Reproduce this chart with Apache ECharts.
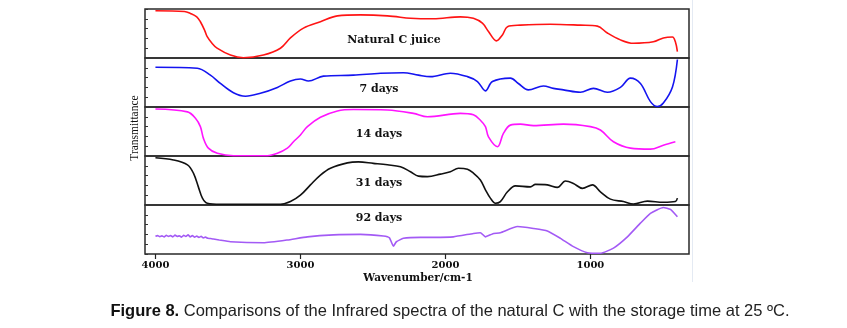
<!DOCTYPE html>
<html>
<head>
<meta charset="utf-8">
<script src="https://cdn.jsdelivr.net/npm/echarts@6/dist/echarts.min.js"></script>
<style>
  html, body { margin: 0; padding: 0; background: #fff; }
  #chart { width: 847px; height: 328px; }
</style>
</head>
<body>
<div id="chart"></div>
<script>
// Wavenumber (cm-1) and relative transmittance (0 = panel floor, 100 = panel top)
const juiceWn = [4000, 3800, 3759, 3715, 3690, 3660, 3644, 3610, 3575, 3483, 3393, 3255, 3138, 3069, 2979, 2862, 2745, 2586, 2400, 2241, 2172, 2083, 1897, 1807, 1745, 1703, 1648, 1607, 1572, 1483, 1276, 1069, 952, 883, 793, 703, 566, 497, 434, 414, 400];
const juiceT  = [96.5, 95, 91, 84, 74, 56, 44, 30, 20, 6, 0.6, 6, 20, 41, 61, 74, 86, 88, 86, 81, 80, 80, 84, 81, 71, 54, 35, 47, 64, 67, 69, 67, 65, 51, 37, 30, 33, 41, 43, 33, 13];

const day7Wn = [4000, 3711, 3621, 3552, 3462, 3379, 3276, 3159, 3069, 3000, 2945, 2841, 2635, 2448, 2290, 2186, 2103, 1966, 1848, 1779, 1724, 1676, 1552, 1497, 1428, 1324, 1255, 1186, 1069, 979, 883, 793, 724, 655, 586, 538, 497, 434, 400];
const day7T  = [81, 79, 65, 48, 29, 22, 28, 40, 53, 57, 53, 63, 65, 69, 70, 65, 62, 69, 62, 52, 33, 52, 59, 48, 35, 43, 38, 35, 30, 38, 30, 40, 59, 48, 11, 1, 8, 41, 97];

const day14Wn = [4000, 3779, 3724, 3690, 3669, 3635, 3573, 3462, 3228, 3159, 3090, 3048, 3000, 2952, 2862, 2745, 2635, 2400, 2221, 2124, 1897, 1807, 1759, 1724, 1703, 1641, 1600, 1552, 1483, 1393, 1186, 1000, 931, 841, 724, 586, 497, 414];
const day14T  = [96, 90, 77, 60, 36, 16, 5.5, 0.6, 0.6, 5.5, 16, 29, 43, 60, 79, 92, 95, 94, 87, 80, 87, 84, 73, 60, 39, 19, 46, 63, 65, 62, 65, 60, 53, 29, 16, 14, 22, 29];

const day31Wn = [4000, 3876, 3779, 3738, 3704, 3676, 3642, 3552, 3138, 3069, 3000, 2931, 2862, 2793, 2676, 2600, 2497, 2400, 2310, 2241, 2186, 2124, 2034, 1966, 1910, 1848, 1807, 1759, 1724, 1690, 1655, 1621, 1572, 1517, 1414, 1379, 1297, 1228, 1172, 1117, 1055, 986, 931, 862, 772, 703, 607, 497, 414, 400];
const day31T  = [96.5, 92, 82, 65, 37, 14, 3.5, 1.4, 1.4, 7, 20, 41, 61, 75, 86, 88, 85, 82, 78, 68, 59, 58, 63, 68, 75, 73, 65, 51, 31, 14, 3.5, 7, 27, 39, 37, 42, 41, 36, 49, 44, 34, 41, 27, 12, 7, 2, 8, 5.5, 7, 14];

const day92Wn = [4000, 3985, 3970, 3955, 3940, 3925, 3910, 3895, 3880, 3865, 3850, 3835, 3820, 3805, 3790, 3775, 3760, 3745, 3730, 3715, 3700, 3685, 3670, 3655, 3640, 3620, 3600, 3560, 3483, 3255, 3090, 2952, 2772, 2586, 2428, 2386, 2359, 2338, 2290, 2172, 2083, 1945, 1807, 1759, 1724, 1676, 1621, 1503, 1393, 1297, 1207, 1117, 1021, 931, 841, 745, 655, 586, 497, 448, 400];
const day92T  = [36, 37.5, 35.5, 37, 35, 38, 36, 37.5, 35, 38.5, 36, 37, 34.5, 38, 36, 39, 35, 37.5, 34.5, 36.5, 34, 36, 33, 34.5, 32, 31.5, 30.5, 28.5, 25, 23, 28.6, 35, 39, 40, 36.7, 33, 16, 25, 32, 34, 34, 35, 42, 43.5, 35, 41, 43.5, 56, 52, 47, 32, 15, 2.7, 1.4, 12, 35, 63, 83, 95, 91, 76];

const panelNames  = ['Natural C juice', '7 days', '14 days', '31 days', '92 days'];
const panelColors = ['#ff1414', '#1414f0', '#ff14ff', '#111111', '#a35af5'];
const panelWn = [juiceWn, day7Wn, day14Wn, day31Wn, day92Wn];
const panelT  = [juiceT, day7T, day14T, day31T, day92T];
const xTicks  = [4000, 3000, 2000, 1000];

const chart = echarts.init(document.getElementById('chart'), null, { renderer: 'canvas' });

const PANEL_TOP = 9, PANEL_H = 49, LEFT = 145, RIGHT = 158;
const grids = [], xAxes = [], yAxes = [], series = [];

panelNames.forEach((name, i) => {
  const last = i === panelNames.length - 1;
  grids.push({
    left: LEFT, right: RIGHT, top: PANEL_TOP + i * PANEL_H, height: PANEL_H,
    show: true, borderColor: '#2a2a2a', borderWidth: 1.5, backgroundColor: 'transparent'
  });
  xAxes.push({
    gridIndex: i, type: 'value', inverse: true, min: 320, max: 4072,
    axisLine: { show: false },
    splitLine: { show: false },
    axisTick: last ? { show: true, customValues: xTicks, length: 5, lineStyle: { color: '#222', width: 1.2 } } : { show: false },
    axisLabel: last ? {
      show: true, customValues: xTicks, margin: 6, formatter: v => String(v),
      fontFamily: 'DejaVu Serif', fontWeight: 'bold', fontSize: 10, color: '#111'
    } : { show: false }
  });
  yAxes.push({
    gridIndex: i, type: 'value', min: 0, max: 100, interval: 20,
    axisLine: { show: false }, splitLine: { show: false }, axisLabel: { show: false },
    axisTick: { show: true, inside: true, length: 3, lineStyle: { color: '#333', width: 1 } }
  });
  series.push({
    type: 'line', xAxisIndex: i, yAxisIndex: i,
    data: panelWn[i].map((w, k) => [w, panelT[i][k]]),
    showSymbol: false, smooth: last ? 0.15 : 0.35,
    lineStyle: { color: panelColors[i], width: 1.6 },
    silent: true, animation: false
  });
});

const labelY = [40, 89, 134, 183, 218.5];
const labelStyle = { fontFamily: 'DejaVu Serif', fontWeight: 'bold', fontSize: 11, fill: '#111', align: 'center', verticalAlign: 'middle' };

const graphics = panelNames.map((name, i) => ({
  type: 'text', x: i === 0 ? 394 : 379, y: labelY[i],
  style: Object.assign({ text: name }, labelStyle)
}));

graphics.push(
  { type: 'text', x: 135, y: 128, rotation: Math.PI / 2,
    style: { text: 'Transmittance', fontFamily: 'Liberation Serif', fontSize: 11.5, fill: '#111', align: 'center', verticalAlign: 'middle' } },
  { type: 'text', x: 418, y: 278,
    style: { text: 'Wavenumber/cm-1', fontFamily: 'DejaVu Serif', fontWeight: 'bold', fontSize: 10.5, fill: '#111', align: 'center', verticalAlign: 'middle' } },
  { type: 'line', shape: { x1: 692.5, y1: 0, x2: 692.5, y2: 282 }, style: { stroke: '#e4eaf3', lineWidth: 1 } },
  { type: 'text', x: 450, y: 311,
    style: {
      text: '{b|Figure 8.} Comparisons of the Infrared spectra of the natural C with the storage time at 25 ºC.',
      fontFamily: 'Liberation Sans', fontSize: 16.5, fill: '#222', align: 'center', verticalAlign: 'middle',
      rich: { b: { fontFamily: 'Liberation Sans', fontWeight: 'bold', fontSize: 16.5, fill: '#111' } }
    } }
);

chart.setOption({
  backgroundColor: '#ffffff',
  animation: false,
  grid: grids,
  xAxis: xAxes,
  yAxis: yAxes,
  series: series,
  graphic: graphics
});
</script>
</body>
</html>
